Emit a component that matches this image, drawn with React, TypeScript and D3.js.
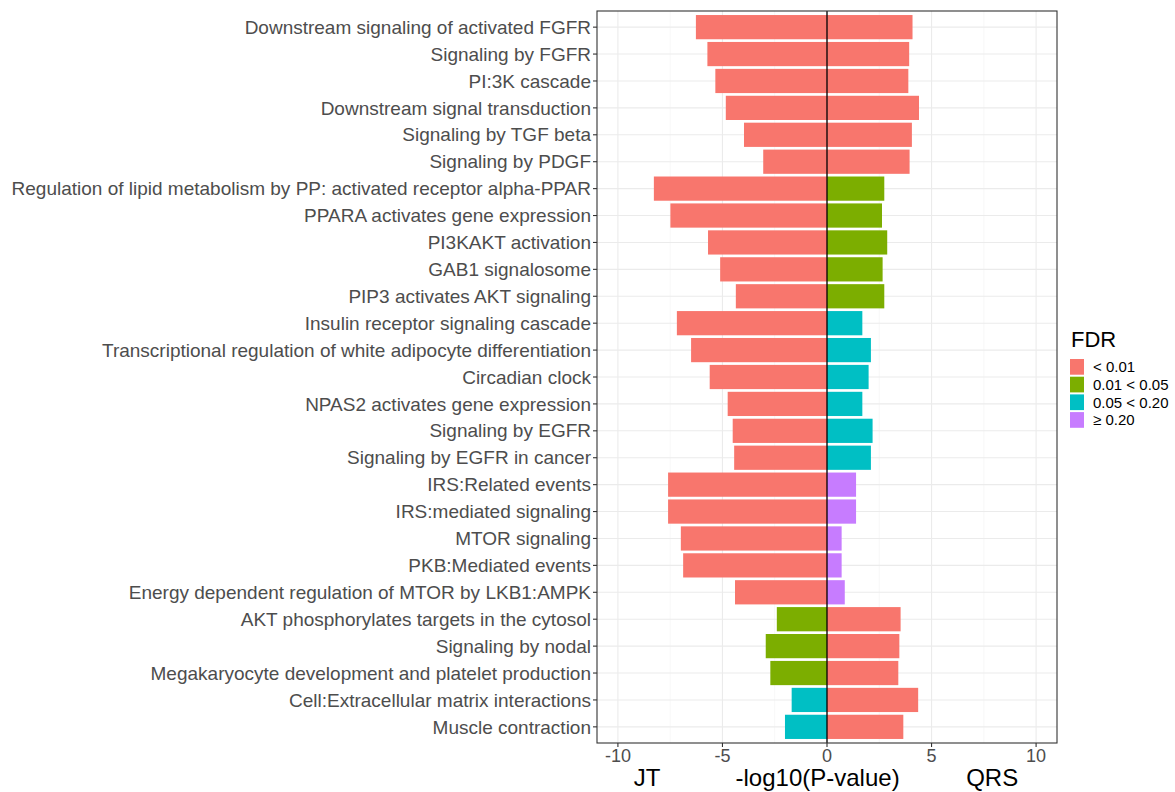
import * as d3 from "d3";

const pathways = [
  "Downstream signaling of activated FGFR",
  "Signaling by FGFR",
  "PI:3K cascade",
  "Downstream signal transduction",
  "Signaling by TGF beta",
  "Signaling by PDGF",
  "Regulation of lipid metabolism by PP: activated receptor alpha-PPAR",
  "PPARA activates gene expression",
  "PI3KAKT activation",
  "GAB1 signalosome",
  "PIP3 activates AKT signaling",
  "Insulin receptor signaling cascade",
  "Transcriptional regulation of white adipocyte differentiation",
  "Circadian clock",
  "NPAS2 activates gene expression",
  "Signaling by EGFR",
  "Signaling by EGFR in cancer",
  "IRS:Related events",
  "IRS:mediated signaling",
  "MTOR signaling",
  "PKB:Mediated events",
  "Energy dependent regulation of MTOR by LKB1:AMPK",
  "AKT phosphorylates targets in the cytosol",
  "Signaling by nodal",
  "Megakaryocyte development and platelet production",
  "Cell:Extracellular matrix interactions",
  "Muscle contraction",
];

// -log10(P) for JT (plotted to the left) and QRS (to the right)
const jtValues = [
  6.27, 5.72, 5.34, 4.84, 3.97, 3.05, 8.28, 7.49, 5.69, 5.11, 4.36, 7.18, 6.5,
  5.61, 4.75, 4.51, 4.44, 7.6, 7.6, 6.99, 6.88, 4.4, 2.4, 2.93, 2.71, 1.69,
  2.01,
];
const qrsValues = [
  4.09, 3.93, 3.89, 4.4, 4.06, 3.95, 2.74, 2.63, 2.88, 2.66, 2.74, 1.69, 2.1,
  1.99, 1.69, 2.18, 2.1, 1.39, 1.39, 0.7, 0.7, 0.85, 3.52, 3.46, 3.41, 4.36,
  3.65,
];
// FDR class index per pathway (0: <0.01, 1: 0.01<0.05, 2: 0.05<0.20, 3: >=0.20)
const jtFdr = [
  0, 0, 0, 0, 0, 0, 0, 0, 0, 0, 0, 0, 0, 0, 0, 0, 0, 0, 0, 0, 0, 0, 1, 1, 1, 2,
  2,
];
const qrsFdr = [
  0, 0, 0, 0, 0, 0, 1, 1, 1, 1, 1, 2, 2, 2, 2, 2, 2, 3, 3, 3, 3, 3, 0, 0, 0, 0,
  0,
];

const fdrLabels = ["< 0.01", "0.01 < 0.05", "0.05 < 0.20", "\u2265 0.20"];
const fdrColors = ["#F8766D", "#7CAE00", "#00BFC4", "#C77CFF"];
const xTicks = [-10, -5, 0, 5, 10];
const xMinor = [-7.5, -2.5, 2.5, 7.5];

const W = 1175,
  H = 792;
const panel = { left: 597, right: 1057, top: 11, bottom: 743 };
const font = "'Liberation Sans', Arial, Helvetica, sans-serif";

export default function App() {
  const x = d3
    .scaleLinear()
    .domain([-11, 11])
    .range([panel.left, panel.right]);
  const y = d3
    .scaleBand<string>()
    .domain(pathways)
    .range([panel.top, panel.bottom])
    .paddingInner(0.1)
    .paddingOuter(0.15);
  const color = d3.scaleOrdinal<number, string>().domain([0, 1, 2, 3]).range(fdrColors);

  const legendX = 1069,
    legendY = 358,
    keyH = 17.7;

  return (
    <svg
      width={W}
      height={H}
      style={{ position: "absolute", left: 0, top: 0, background: "#fff" }}
      fontFamily={font}
    >
      <rect x={0} y={0} width={W} height={H} fill="#fff" />
      {/* grid */}
      {xMinor.map((t) => (
        <line
          key={"mn" + t}
          x1={x(t)}
          x2={x(t)}
          y1={panel.top}
          y2={panel.bottom}
          stroke="#F2F2F2"
          strokeWidth={0.6}
        />
      ))}
      {xTicks.map((t) => (
        <line
          key={"mj" + t}
          x1={x(t)}
          x2={x(t)}
          y1={panel.top}
          y2={panel.bottom}
          stroke="#EBEBEB"
          strokeWidth={1.1}
        />
      ))}
      {pathways.map((p) => (
        <line
          key={"hg" + p}
          x1={panel.left}
          x2={panel.right}
          y1={y(p)! + y.bandwidth() / 2}
          y2={y(p)! + y.bandwidth() / 2}
          stroke="#EBEBEB"
          strokeWidth={1.1}
        />
      ))}
      {/* bars */}
      {pathways.map((p, i) => (
        <g key={"b" + p}>
          <rect
            x={x(-jtValues[i])}
            y={y(p)}
            width={x(0) - x(-jtValues[i])}
            height={y.bandwidth()}
            fill={color(jtFdr[i])}
          />
          <rect
            x={x(0)}
            y={y(p)}
            width={x(qrsValues[i]) - x(0)}
            height={y.bandwidth()}
            fill={color(qrsFdr[i])}
          />
        </g>
      ))}
      {/* zero line */}
      <line
        x1={x(0)}
        x2={x(0)}
        y1={panel.top}
        y2={panel.bottom}
        stroke="#000"
        strokeWidth={1.3}
      />
      {/* panel border */}
      <rect
        x={panel.left}
        y={panel.top}
        width={panel.right - panel.left}
        height={panel.bottom - panel.top}
        fill="none"
        stroke="#333333"
        strokeWidth={1.1}
      />
      {/* y axis */}
      {pathways.map((p) => {
        const cy = y(p)! + y.bandwidth() / 2;
        return (
          <g key={"yl" + p}>
            <line
              x1={panel.left - 4}
              x2={panel.left}
              y1={cy}
              y2={cy}
              stroke="#333333"
              strokeWidth={1.1}
            />
            <text
              x={panel.left - 6}
              y={cy}
              dy="0.35em"
              textAnchor="end"
              fontSize={19}
              fill="#4D4D4D"
            >
              {p}
            </text>
          </g>
        );
      })}
      {/* x axis */}
      {xTicks.map((t) => (
        <g key={"xt" + t}>
          <line
            x1={x(t)}
            x2={x(t)}
            y1={panel.bottom}
            y2={panel.bottom + 4}
            stroke="#333333"
            strokeWidth={1.1}
          />
          <text
            x={x(t)}
            y={panel.bottom + 19}
            textAnchor="middle"
            fontSize={18}
            fill="#4D4D4D"
          >
            {t}
          </text>
        </g>
      ))}
      <text x={x(-8.6)} y={786} textAnchor="middle" fontSize={24} fill="#000">
        JT
      </text>
      <text x={x(-0.45)} y={786} textAnchor="middle" fontSize={24} fill="#000">
        -log10(P-value)
      </text>
      <text x={x(7.9)} y={786} textAnchor="middle" fontSize={24} fill="#000">
        QRS
      </text>
      {/* legend */}
      <text x={legendX + 2} y={347} fontSize={22} fill="#000">
        FDR
      </text>
      {fdrLabels.map((l, i) => (
        <g key={"lg" + l}>
          <rect
            x={legendX}
            y={legendY + i * keyH}
            width={16}
            height={keyH}
            fill="#fff"
          />
          <rect
            x={legendX + 1}
            y={legendY + i * keyH + 1}
            width={14}
            height={keyH - 2}
            fill={fdrColors[i]}
          />
          <text
            x={legendX + 24}
            y={legendY + i * keyH + keyH / 2}
            dy="0.35em"
            fontSize={15}
            fill="#000"
          >
            {l}
          </text>
        </g>
      ))}
    </svg>
  );
}
